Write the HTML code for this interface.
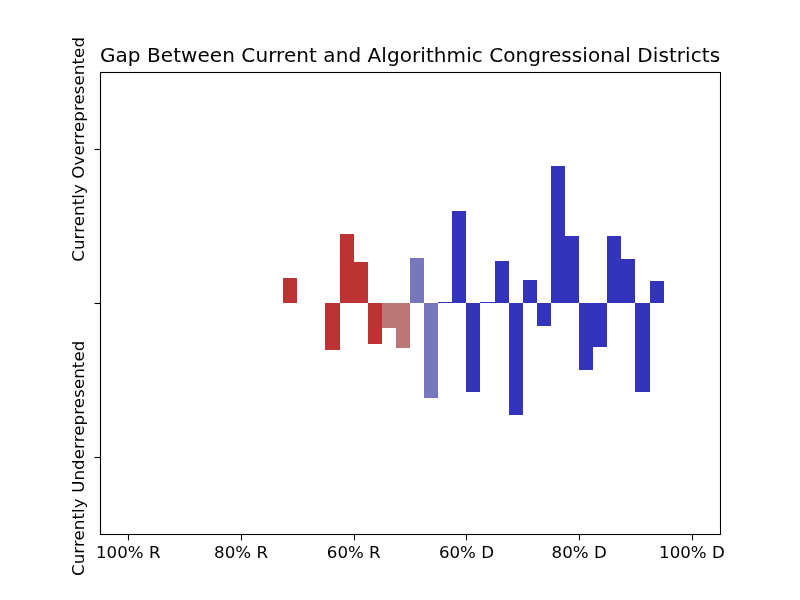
<!DOCTYPE html>
<html lang="en"><head><meta charset="utf-8"><title>Gap Between Current and Algorithmic Congressional Districts</title>
<style>
html,body{margin:0;padding:0;background:#fff;}
body{width:800px;height:600px;overflow:hidden;}
svg{display:block;}
svg text{font-family:"DejaVu Sans","Liberation Sans",sans-serif;fill:#000;}
</style></head><body>
<svg width="800" height="600" viewBox="0 0 800 600">
<rect x="0" y="0" width="800" height="600" fill="#ffffff"/>
<g shape-rendering="crispEdges">
<rect x="283" y="278" width="14" height="25" fill="#bb3333"/>
<rect x="325" y="303" width="15" height="47" fill="#bb3333"/>
<rect x="340" y="234" width="14" height="69" fill="#bb3333"/>
<rect x="354" y="262" width="14" height="41" fill="#bb3333"/>
<rect x="368" y="303" width="14" height="41" fill="#bb3333"/>
<rect x="382" y="303" width="14" height="25" fill="#bb7777"/>
<rect x="396" y="303" width="14" height="45" fill="#bb7777"/>
<rect x="410" y="258" width="14" height="45" fill="#7777bb"/>
<rect x="424" y="303" width="14" height="95" fill="#7777bb"/>
<rect x="452" y="211" width="14" height="92" fill="#3333bb"/>
<rect x="466" y="303" width="14" height="89" fill="#3333bb"/>
<rect x="495" y="261" width="14" height="42" fill="#3333bb"/>
<rect x="509" y="303" width="14" height="112" fill="#3333bb"/>
<rect x="523" y="280" width="14" height="23" fill="#3333bb"/>
<rect x="537" y="303" width="14" height="23" fill="#3333bb"/>
<rect x="551" y="166" width="14" height="137" fill="#3333bb"/>
<rect x="565" y="236" width="14" height="67" fill="#3333bb"/>
<rect x="579" y="303" width="14" height="67" fill="#3333bb"/>
<rect x="593" y="303" width="14" height="44" fill="#3333bb"/>
<rect x="607" y="236" width="14" height="67" fill="#3333bb"/>
<rect x="621" y="259" width="14" height="44" fill="#3333bb"/>
<rect x="635" y="303" width="15" height="89" fill="#3333bb"/>
<rect x="650" y="281" width="14" height="22" fill="#3333bb"/>
<rect x="438" y="302.1" width="14" height="0.9" fill="#3333bb"/>
<rect x="480" y="302.1" width="15" height="0.9" fill="#3333bb"/>
</g>
<rect x="100.5" y="72.5" width="620" height="462" fill="none" stroke="#000" stroke-width="1.1"/>
<line x1="128.5" y1="534.5" x2="128.5" y2="540.4" stroke="#000" stroke-width="1.1"/>
<text x="128.28" y="557.8" text-anchor="middle" font-size="16.67">100% R</text>
<line x1="241.5" y1="534.5" x2="241.5" y2="540.4" stroke="#000" stroke-width="1.1"/>
<text x="241.01" y="557.8" text-anchor="middle" font-size="16.67">80% R</text>
<line x1="354.5" y1="534.5" x2="354.5" y2="540.4" stroke="#000" stroke-width="1.1"/>
<text x="353.73" y="557.8" text-anchor="middle" font-size="16.67">60% R</text>
<line x1="466.5" y1="534.5" x2="466.5" y2="540.4" stroke="#000" stroke-width="1.1"/>
<text x="466.46" y="557.8" text-anchor="middle" font-size="16.67">60% D</text>
<line x1="579.5" y1="534.5" x2="579.5" y2="540.4" stroke="#000" stroke-width="1.1"/>
<text x="579.19" y="557.8" text-anchor="middle" font-size="16.67">80% D</text>
<line x1="692.5" y1="534.5" x2="692.5" y2="540.4" stroke="#000" stroke-width="1.1"/>
<text x="691.92" y="557.8" text-anchor="middle" font-size="16.67">100% D</text>
<line x1="94.6" y1="149.5" x2="100.5" y2="149.5" stroke="#000" stroke-width="1.1"/>
<line x1="94.6" y1="303.5" x2="100.5" y2="303.5" stroke="#000" stroke-width="1.1"/>
<line x1="94.6" y1="457.5" x2="100.5" y2="457.5" stroke="#000" stroke-width="1.1"/>
<text x="99.9" y="61.7" font-size="20" textLength="620.2" lengthAdjust="spacing">Gap Between Current and Algorithmic Congressional Districts</text>
<text transform="translate(84.4,576) rotate(-90)" font-size="16.67" textLength="235.4" lengthAdjust="spacing">Currently Underrepresented</text>
<text transform="translate(84.4,261.8) rotate(-90)" font-size="16.67" textLength="224.8" lengthAdjust="spacing">Currently Overrepresented</text>
</svg>
</body></html>
